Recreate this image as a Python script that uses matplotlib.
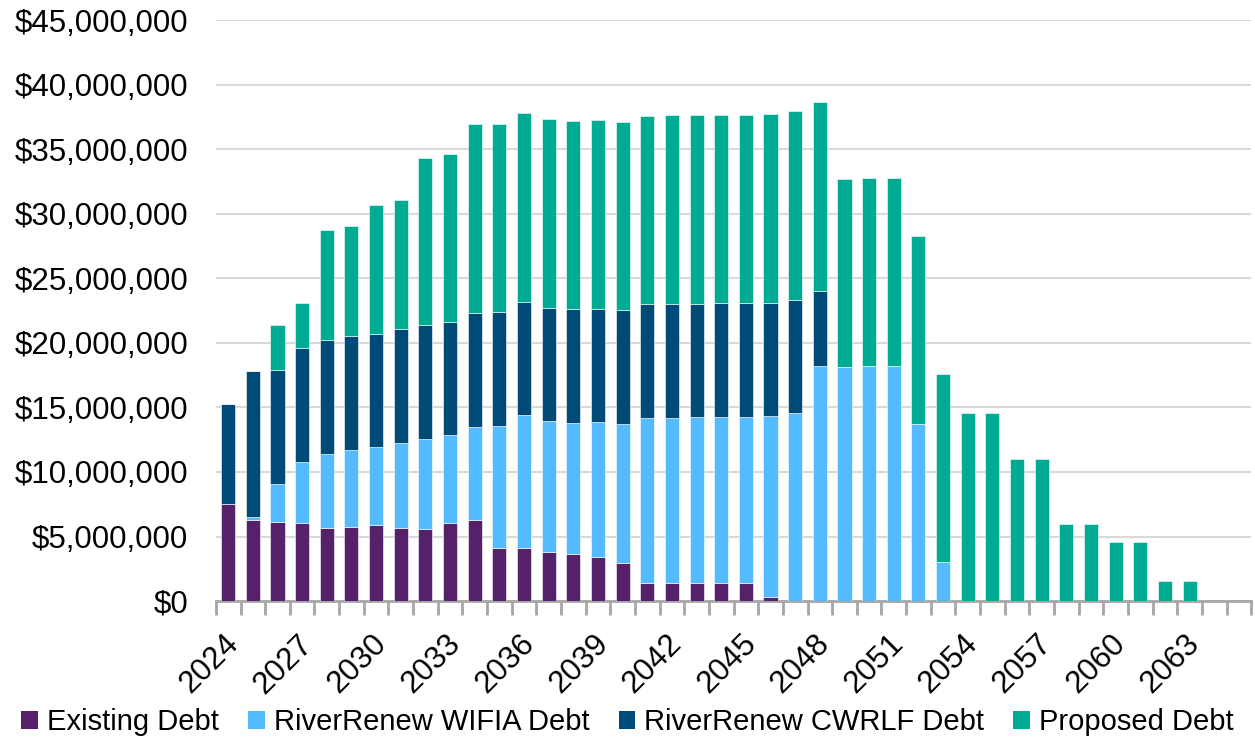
import numpy as np
import matplotlib.pyplot as plt
from matplotlib.patches import Patch
from matplotlib.ticker import FuncFormatter, FixedLocator
from matplotlib.transforms import ScaledTranslation

plt.rcParams['font.family'] = ['Liberation Sans', 'DejaVu Sans']

# Годы
years = list(range(2024, 2066))

# Значения по слоям, млн $
existing = [7.55, 6.26, 6.13, 6.08, 5.67, 5.75, 5.90, 5.67, 5.62, 6.03,
            6.26, 4.12, 4.12, 3.79, 3.66, 3.43, 2.94, 1.42, 1.42, 1.42,
            1.42, 1.42, 0.33, 0, 0, 0, 0, 0, 0, 0,
            0, 0, 0, 0, 0, 0, 0, 0, 0, 0, 0, 0]
wifia = [0, 0.24, 2.97, 4.72, 5.75, 5.95, 6.03, 6.60, 6.96, 6.86,
         7.25, 9.44, 10.27, 10.13, 10.16, 10.44, 10.80, 12.76, 12.79, 12.81,
         12.84, 12.86, 13.98, 14.54, 18.17, 18.12, 18.17, 18.23, 13.71, 3.04,
         0, 0, 0, 0, 0, 0, 0, 0, 0, 0, 0, 0]
cwrlf = [7.74, 11.29, 8.82, 8.79, 8.79, 8.80, 8.77, 8.79, 8.79, 8.74,
         8.82, 8.82, 8.76, 8.79, 8.79, 8.77, 8.79, 8.81, 8.81, 8.79,
         8.81, 8.81, 8.78, 8.79, 5.83, 0, 0, 0, 0, 0,
         0, 0, 0, 0, 0, 0, 0, 0, 0, 0, 0, 0]
proposed = [0, 0, 3.48, 3.48, 8.56, 8.55, 10.00, 10.03, 12.94, 12.96,
            14.59, 14.59, 14.62, 14.59, 14.59, 14.61, 14.59, 14.60, 14.59, 14.59,
            14.59, 14.57, 14.60, 14.59, 14.62, 14.57, 14.57, 14.56, 14.54, 14.57,
            14.54, 14.54, 11.03, 11.03, 5.98, 5.98, 4.54, 4.54, 1.57, 1.57, 0, 0]

series = [
    ('Existing Debt', existing, '#55216B'),
    ('RiverRenew WIFIA Debt', wifia, '#53BBFE'),
    ('RiverRenew CWRLF Debt', cwrlf, '#004A77'),
    ('Proposed Debt', proposed, '#00AB93'),
]

fig = plt.figure(figsize=(12.55, 7.43), dpi=100)
ax = fig.add_axes([0.172, 0.191, 0.825, 0.782])

x = np.arange(len(years))
bottom = np.zeros(len(years))
handles = []
for name, vals, color in series:
    v = np.array(vals) * 1e6
    ax.bar(x, v, bottom=bottom, width=0.57, color=color,
           edgecolor='white', linewidth=0.4, zorder=3)
    bottom += v
    handles.append(Patch(facecolor=color, label=name))

ax.set_xlim(-0.5, len(years) - 0.5)
ax.set_ylim(0, 45e6)
ax.set_yticks(np.arange(0, 45e6 + 1, 5e6))
ax.yaxis.set_major_formatter(FuncFormatter(lambda v, p: f'${v:,.0f}'))
ax.grid(True, axis='y', color='#D9D9D9', linewidth=1.5, zorder=0)

for s in ['top', 'right', 'left']:
    ax.spines[s].set_visible(False)
ax.spines['bottom'].set_color('#A6A6A6')
ax.spines['bottom'].set_linewidth(2)

# подписи каждые 3 года, засечки между категориями
ax.set_xticks(x[::3])
ax.set_xticklabels([str(y) for y in years[::3]], rotation=45, ha='right',
                   rotation_mode='anchor')
ax.xaxis.set_minor_locator(FixedLocator(np.arange(-0.5, len(years), 1)))
ax.tick_params(axis='x', which='major', length=0, pad=20, labelsize=22.5)
ax.tick_params(axis='x', which='minor', length=10, width=2, color='#A6A6A6')
ax.tick_params(axis='y', length=0, pad=20, labelsize=22.5)

shift = ScaledTranslation(-0.05, 0, fig.dpi_scale_trans)
for lbl in ax.get_xticklabels():
    lbl.set_transform(lbl.get_transform() + shift)

fig.legend(handles=handles, loc='lower center', ncol=4, frameon=False,
           fontsize=21, handlelength=0.58, handleheight=0.55,
           handletextpad=0.3, columnspacing=1.0, bbox_to_anchor=(0.5, -0.026))

fig.savefig('out.png', dpi=100)
